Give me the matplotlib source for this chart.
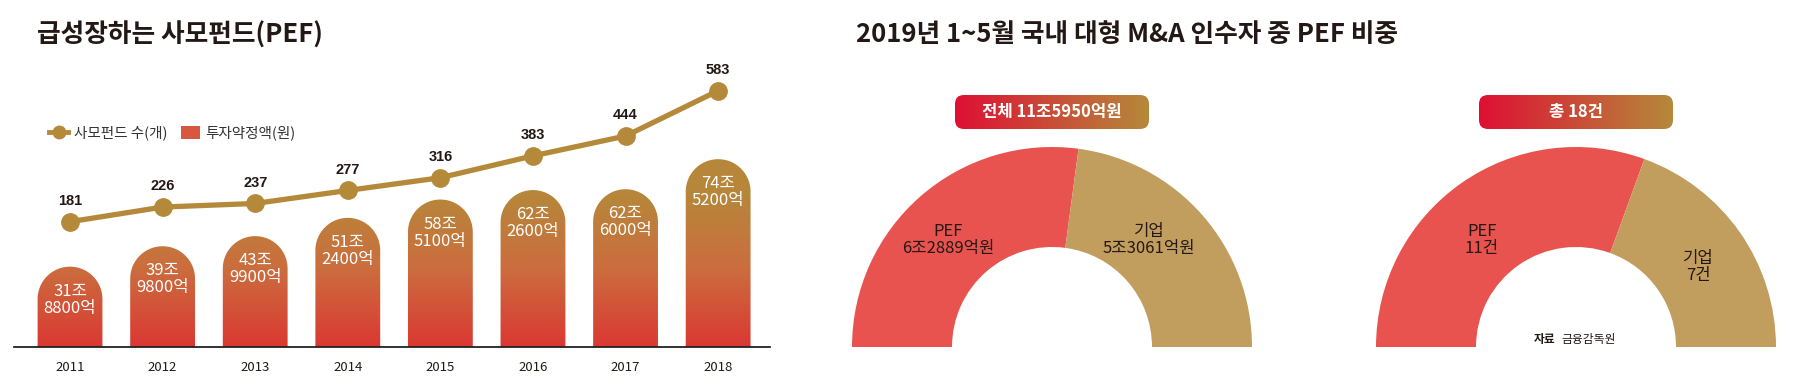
import numpy as np
import matplotlib.pyplot as plt
from matplotlib.path import Path
from matplotlib.patches import PathPatch, FancyBboxPatch, Patch
from matplotlib.lines import Line2D

plt.rcParams['font.family'] = ['Noto Sans CJK KR', 'DejaVu Sans']

# left chart data
years = ['2011', '2012', '2013', '2014', '2015', '2016', '2017', '2018']
fund_counts = [181, 226, 237, 277, 316, 383, 444, 583]
commit_jo = [31.88, 39.98, 43.99, 51.24, 58.51, 62.26, 62.60, 74.52]
commit_labels = ['31조\n8800억', '39조\n9800억', '43조\n9900억', '51조\n2400억',
                 '58조\n5100억', '62조\n2600억', '62조\n6000억', '74조\n5200억']

# right chart data
buyers = ['PEF', '기업']
amount_jo = [6.2889, 5.3061]
amount_labels = ['6조2889억원', '5조3061억원']
amount_total = '전체 11조5950억원'
deal_counts = [11, 7]
deal_labels = ['11건', '7건']
deal_total = '총 18건'

W, H = 1803, 389
GOLD = '#b5893a'
RED = '#e8534f'
TAN = '#c29e5e'
DARK = '#231815'


def px_rect(x0, y0, x1, y1):
    # pixel box (top-left origin) -> figure fraction
    return [x0 / W, 1 - y1 / H, (x1 - x0) / W, (y1 - y0) / H]


fig = plt.figure(figsize=(W / 100, H / 100), dpi=100)

deco = fig.add_axes([0, 0, 1, 1])
deco.axis('off')

# ---------------- left: bars + line ----------------
ax = fig.add_axes(px_rect(14, 40, 770, 347))
x = np.arange(len(years))
xlim = (-0.605, 7.56)
ylim_bar = (0, 121.8)
ax.set_xlim(*xlim)
ax.set_ylim(*ylim_bar)
for s in ['top', 'left', 'right']:
    ax.spines[s].set_visible(False)
ax.spines['bottom'].set_linewidth(1.3)
ax.spines['bottom'].set_color('#222222')
ax.set_yticks([])
ax.set_xticks(x)
ax.set_xticklabels(years, fontsize=9.5, color=DARK)
ax.tick_params(axis='x', length=0, pad=10)
ax.patch.set_visible(False)

p0 = ax.transData.transform((0, 0))
p1 = ax.transData.transform((1, 1))
sx, sy = p1[0] - p0[0], p1[1] - p0[1]
bw = 0.70
rx = bw / 2
ry = rx * sx / sy

paths = []
for xi, h in zip(x, commit_jo):
    t = np.linspace(np.pi, 0, 40)
    verts = [(xi - rx, 0), (xi - rx, h - ry)]
    verts += list(zip(xi + rx * np.cos(t), h - ry + ry * np.sin(t)))
    verts += [(xi + rx, 0), (xi - rx, 0)]
    codes = [Path.MOVETO] + [Path.LINETO] * (len(verts) - 2) + [Path.CLOSEPOLY]
    paths.append(Path(verts, codes))
bars_path = Path.make_compound_path(*paths)
clip = PathPatch(bars_path, transform=ax.transData, facecolor='none', edgecolor='none')
ax.add_patch(clip)

# vertical gradient by height above baseline (pixels)
rows = 400
yy = np.linspace(0, ylim_bar[1], rows) * sy
stops = [0, 80, 150, 400]
cols = np.array([[218, 56, 50], [203, 110, 62], [183, 134, 58], [181, 137, 58]]) / 255
grad = np.stack([np.interp(yy, stops, cols[:, k]) for k in range(3)], axis=-1)
grad = np.repeat(grad[:, None, :], 2, axis=1)
im = ax.imshow(grad, extent=(xlim[0], xlim[1], 0, ylim_bar[1]), origin='lower',
               aspect='auto', zorder=2)
im.set_clip_path(clip)
ax.set_xlim(*xlim)
ax.set_ylim(*ylim_bar)

for xi, h, lab in zip(x, commit_jo, commit_labels):
    ax.text(xi, h - 33 / sy, lab, ha='center', va='center', color='white',
            fontsize=12, linespacing=1.0, zorder=3)

ax2 = ax.twinx()
ax2.set_ylim(-203.4, 738.6)
ax2.axis('off')
ax2.plot(x, fund_counts, color=GOLD, lw=3.8, marker='o', ms=12.5, zorder=4)
for xi, v in zip(x, fund_counts):
    ax2.annotate(str(v), (xi, v), xytext=(0, 15), textcoords='offset points',
                 ha='center', va='center', fontsize=10.5, fontweight='bold',
                 family='Liberation Sans', color=DARK)

handles = [Line2D([], [], color=GOLD, lw=3.5, marker='o', ms=9),
           Patch(facecolor='#d8583f', edgecolor='none')]
ax.legend(handles, ['사모펀드 수(개)', '투자약정액(원)'], loc='center left',
          bbox_to_anchor=(36 / W, 1 - 133 / H), bbox_transform=fig.transFigure,
          frameon=False, ncol=2, fontsize=10.5, handlelength=1.3, handleheight=1.0,
          handletextpad=0.4, columnspacing=0.9, labelcolor='#333333')

fig.text(37 / W, 1 - 35 / H, '급성장하는 사모펀드(PEF)', fontsize=18.5, fontweight='bold',
         color=DARK, va='center', ha='left')

# ---------------- right: half donuts ----------------
fig.text(856 / W, 1 - 35 / H, '2019년 1~5월 국내 대형 M&A 인수자 중 PEF 비중',
         fontsize=18.5, fontweight='bold', color=DARK, va='center', ha='left')

pill_grad = np.linspace(0, 1, 200)
pc0 = np.array([222, 16, 52]) / 255
pc1 = np.array([181, 137, 58]) / 255
pill_img = (pc0[None, :] * (1 - pill_grad[:, None]) + pc1[None, :] * pill_grad[:, None])[None, :, :]


def half_donut(cx, values, labels, total_text, label_pos):
    a = fig.add_axes(px_rect(cx - 200, 147, cx + 200, 347))
    a.pie(values + [sum(values)], colors=[RED, TAN, 'none'], startangle=180,
          counterclock=False, radius=1.0, wedgeprops=dict(width=0.5, linewidth=0))
    a.set_aspect('auto')
    a.set_xlim(-1, 1)
    a.set_ylim(0, 1)
    a.axis('off')
    for (lx, ly), name, lab in zip(label_pos, buyers, labels):
        a.text(lx, ly, f'{name}\n{lab}', ha='center', va='center', fontsize=12,
               color=DARK, linespacing=1.0)
    # header pill
    x0, x1, y0, y1 = cx - 97, cx + 97, 95, 129
    box = FancyBboxPatch((x0, y0), x1 - x0, y1 - y0,
                         boxstyle='round,pad=0,rounding_size=9',
                         facecolor='none', edgecolor='none', transform=deco.transData)
    deco.add_patch(box)
    pim = deco.imshow(pill_img, extent=(x0, x1, y1, y0), aspect='auto', zorder=2)
    pim.set_clip_path(box)
    deco.text(cx, (y0 + y1) / 2, total_text, ha='center', va='center', color='white',
              fontsize=12, fontweight='bold', zorder=3)
    return a


half_donut(1052, amount_jo, amount_labels, amount_total,
           [(-0.52, 0.535), (0.485, 0.535)])
half_donut(1576, deal_counts, deal_labels, deal_total,
           [(-0.47, 0.535), (0.61, 0.40)])

deco.set_xlim(0, W)
deco.set_ylim(H, 0)

deco.text(1556, 340, '자료', ha='right', va='center', fontsize=8.5,
          fontweight='bold', color=DARK)
deco.text(1561, 340, '금융감독원', ha='left', va='center', fontsize=8.5, color=DARK)

fig.savefig('out.png', dpi=100)
